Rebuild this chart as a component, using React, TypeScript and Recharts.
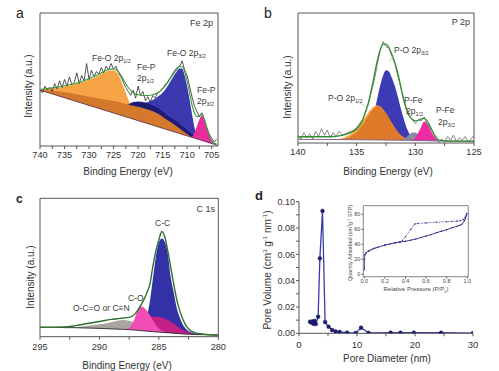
import React from 'react';
import { ComposedChart, Area, Line, XAxis, YAxis, ReferenceArea, LineChart } from 'recharts';

type P = [number, number];
const FONT = 'Liberation Sans, Arial, Helvetica, sans-serif';

// ---------- Panel a : Fe 2p ----------
const aTicks = [740, 737.5, 735, 732.5, 730, 727.5, 725, 722.5, 720, 717.5, 715, 712.5, 710, 707.5, 705];
const aBackground: P[] = [[740, 42], [703.7, 0.4]];
const aLightOrange: P[] = [[740, 42.2], [738, 43], [736, 44], [734, 45.5], [732, 47.5], [730, 50], [728, 53], [727, 55], [726, 56.5], [725, 57], [724.5, 56], [724, 53.5], [723.5, 49.5], [723, 45], [722.5, 40], [722, 35], [721.5, 31], [721, 30]];
const aBlue: P[] = [[721, 30.5], [720, 31], [719, 32], [718, 33], [717, 34.5], [716, 37], [715, 40], [714, 45], [713, 51], [712, 56.5], [711.5, 58.5], [711, 58], [710.5, 53], [710, 45], [709.5, 35], [709, 24], [708.5, 14], [708, 8], [707.5, 4], [707, 2.5]];
const aNavy: P[] = [[722, 31], [721, 33], [720, 33.5], [719, 33], [718, 32], [717, 30.5], [716, 28.5], [715, 26], [714, 23], [713, 20.5], [712, 18], [711, 15], [710, 12], [709, 9], [708, 6.5], [707, 4.5], [706, 3]];
const aDarkOrange: P[] = [[740, 42], [738, 41.8], [736, 41], [734, 40], [732, 38.5], [730, 37], [728, 35.8], [726, 34.5], [724, 33], [722, 31], [720, 29.5], [718, 27.5], [716, 24.5], [714, 19.5], [712, 14.5], [710, 9], [709, 6.5], [708, 4.5], [706, 2], [704, 0.6]];
const aMagenta: P[] = [[709.5, 5], [709, 6.5], [708.5, 10], [708, 15], [707.5, 20], [707, 23], [706.5, 19], [706, 13], [705.5, 8], [705, 4], [704.5, 1.5], [704, 0.6]];
const aEnvelope: P[] = [[740, 42.5], [738, 43.5], [736, 44.5], [734, 46], [732, 48], [730, 50.5], [728, 54], [726, 57.5], [725, 58], [724, 56], [723, 50], [722, 44], [721, 40], [720, 38.5], [719, 38], [718, 38], [717, 38.5], [716, 40], [715, 43], [714, 47.5], [713, 53], [712, 58], [711.5, 60], [711, 59.5], [710.5, 56], [710, 49], [709.5, 40], [709, 31], [708.5, 25], [708, 22], [707.5, 23], [707, 24], [706.5, 20], [706, 14], [705.5, 8], [705, 4], [704.5, 2], [704, 1.5]];
const aRaw: P[] = [[740, 43], [739.5, 40], [739, 45], [738.5, 42], [738, 44], [737.5, 41], [737, 47], [736.5, 43], [736, 49], [735.5, 44], [735, 50], [734.5, 45], [734, 52], [733.5, 46], [733, 48], [732.5, 55], [732, 47], [731.5, 53], [731, 49], [730.5, 62], [730, 50], [729.5, 57], [729, 52], [728.5, 56], [728, 54], [727.5, 59], [727, 55], [726.5, 60], [726, 57], [725.5, 62], [725, 58], [724.5, 60], [724, 55], [723.5, 52], [723, 48], [722.5, 44], [722, 41], [721.5, 38], [721, 42], [720.5, 36], [720, 45], [719.5, 38], [719, 41], [718.5, 34], [718, 37], [717.5, 33], [717, 38], [716.5, 36], [716, 40], [715.5, 41], [715, 43], [714.5, 46], [714, 48], [713.5, 51], [713, 54], [712.5, 57], [712, 59], [711.5, 60], [711, 64], [710.5, 57], [710, 53], [709.5, 45], [709, 37], [708.5, 30], [708, 26], [707.5, 22], [707, 25], [706.5, 20], [706, 14], [705.5, 9], [705, 6], [704.5, 3], [704, 5]];

// ---------- Panel b : P 2p ----------
const bTicks = [140, 137.5, 135, 132.5, 130, 127.5, 125];
const bBackground: P[] = [[140, 2.8], [136, 2.6], [133, 2.3], [130, 2], [128, 1.5], [125, 1.2]];
const bBlue: P[] = [[135, 2.8], [134.5, 4], [134, 9], [133.75, 15], [133.5, 24], [133.25, 34], [133, 44], [132.75, 52], [132.5, 56], [132.25, 55], [132, 50], [131.75, 44], [131.5, 36], [131.25, 27], [131, 19], [130.75, 12], [130.5, 7], [130.25, 4], [130, 2.8], [129.5, 2.2]];
const bLightOrange: P[] = [[137, 2.8], [136.5, 3.3], [136, 4.5], [135.5, 7], [135, 11], [134.5, 17], [134, 23.5], [133.5, 28], [133.25, 29], [133, 28], [132.5, 22.5], [132, 15], [131.5, 8.5], [131, 4.5], [130.5, 2.8], [130, 2.2]];
const bOrange: P[] = [[136.5, 2.8], [136, 3.5], [135.5, 5], [135, 8.5], [134.5, 14], [134, 21], [133.5, 27], [133.25, 28.5], [133, 28], [132.5, 23], [132, 15.5], [131.5, 8.5], [131, 4.5], [130.5, 2.8], [130, 2.2]];
const bGray: P[] = [[131, 2.5], [130.75, 4.5], [130.5, 6.5], [130.25, 8], [130, 8], [129.75, 6.5], [129.5, 4.5], [129, 2.5]];
const bMagenta: P[] = [[130.25, 2.2], [130, 4], [129.75, 8], [129.5, 12.5], [129.25, 16.5], [129, 15], [128.75, 11], [128.5, 6.5], [128.25, 3], [128, 1.5]];
const bEnvelope: P[] = [[140, 4.8], [138, 4.8], [137, 5], [136.5, 5.5], [136, 6.5], [135.5, 8], [135, 11], [134.5, 17.5], [134.25, 24], [134, 31], [133.75, 41], [133.5, 52], [133.25, 63], [133, 71.5], [132.75, 76], [132.5, 76], [132.25, 73.5], [132, 68], [131.75, 62], [131.5, 54], [131.25, 44], [131, 33.5], [130.75, 26], [130.5, 21], [130.25, 18], [130, 17], [129.75, 17.5], [129.5, 18.5], [129.25, 19], [129, 17], [128.75, 13], [128.5, 8.5], [128.25, 4.5], [128, 2.5], [127.5, 1.6], [127, 1.5], [125, 1.4]];
const bRaw: P[] = [[140, 6], [139.75, 3], [139.5, 8], [139.25, 4], [139, 7], [138.75, 3], [138.5, 9], [138.25, 5], [138, 11], [137.75, 6], [137.5, 10], [137.25, 4], [137, 8], [136.75, 5], [136.5, 9], [136.25, 6], [136, 7], [135.75, 8], [135.5, 9], [135.25, 10], [135, 12], [134.75, 15], [134.5, 18], [134.25, 23], [134, 30], [133.75, 39], [133.5, 48], [133.25, 60], [133, 71], [132.75, 78], [132.5, 74], [132.25, 73], [132, 67], [131.75, 61], [131.5, 52], [131.25, 43], [131, 34], [130.75, 25], [130.5, 20], [130.25, 18], [130, 15], [129.75, 18], [129.5, 17], [129.25, 20], [129, 15], [128.75, 12], [128.5, 8], [128.25, 3], [128, 0.5], [127.75, 3], [127.5, 1], [127.25, 5], [127, 2], [126.75, 6], [126.5, 1], [126.25, 4], [126, 2], [125.75, 5], [125.5, 1], [125.25, 3], [125, 6]];

// ---------- Panel c : C 1s ----------
const cTicks = [295, 292.5, 290, 287.5, 285, 282.5, 280];
const cBackground: P[] = [[295, 6.8], [292, 6.5], [290, 6], [288, 5.3], [287, 4.8], [286, 4], [285, 3.3], [284, 2.7], [283, 2], [282, 1.6], [280, 1.2]];
const cGray: P[] = [[292.5, 6.6], [292, 7], [291, 8], [290, 9], [289, 10.5], [288.5, 11.5], [288, 12], [287.5, 11.5], [287, 10], [286.5, 8], [286, 6], [285.5, 4.5], [285, 3.5]];
const cBlue: P[] = [[287, 4.8], [286.5, 5.5], [286.25, 8], [286, 15], [285.75, 26], [285.5, 42], [285.25, 58], [285, 68], [284.75, 71], [284.5, 68.5], [284.25, 60], [284, 43], [283.75, 32], [283.5, 21], [283.25, 14], [283, 9], [282.75, 6], [282.5, 4], [282, 2.5], [281.5, 1.8], [281, 1.4]];
const cDarkMagenta: P[] = [[287, 5], [286.5, 8], [286, 12], [285.5, 14.5], [285, 14.5], [284.5, 13], [284, 11], [283.5, 8], [283, 5], [282.5, 3], [282, 2]];
const cPink: P[] = [[288, 5.5], [287.5, 6.5], [287.25, 9], [287, 14], [286.75, 20], [286.5, 22], [286.25, 21], [286, 18.5], [285.75, 15.5], [285.5, 12], [285.25, 8.5], [285, 6], [284.5, 3.8]];
const cEnvelope: P[] = [[295, 6.8], [293, 7], [292, 8], [291, 9.5], [290, 11], [289, 12.5], [288.5, 13], [288, 13.5], [287.5, 14], [287, 16.5], [286.75, 19.5], [286.5, 23], [286.25, 27], [286, 32], [285.75, 38], [285.5, 51], [285.25, 62], [285, 70], [284.75, 76], [284.5, 72], [284.25, 62], [284, 50], [283.75, 38], [283.5, 27], [283.25, 19], [283, 13], [282.75, 8.5], [282.5, 5.5], [282, 3], [281.5, 2.2], [281, 1.6], [280, 1.2]];

// ---------- Panel d : pore size distribution ----------
const dXTicks = [0, 5, 10, 15, 20, 25, 30];
const dYTicks = [0, 0.01, 0.02, 0.03, 0.04, 0.05, 0.06, 0.07, 0.08, 0.09, 0.1];
const dPore: P[] = [[1.9, 0.0088], [2.1, 0.0082], [2.3, 0.009], [2.5, 0.0072], [2.7, 0.0094], [2.9, 0.0071], [3.3, 0.0126], [3.6, 0.057], [4.05, 0.093], [4.5, 0.0085], [5.1, 0.005], [5.7, 0.0025], [6.3, 0.0015], [7.0, 0.001], [8.3, 0.0005], [9.8, 0.0003], [10.7, 0.0042], [12.0, 0.0003], [15.8, 0.0005], [17.5, 0.0004], [19.8, 0.0004], [24.5, 0.0004], [30, 0.0002]];
// inset isotherm
const iXTicks = [0, 0.2, 0.4, 0.6, 0.8, 1.0];
const iYTicks = [0, 20, 40, 60, 80];
const iAdsorption: P[] = [[0.0005, 6], [0.002, 20], [0.006, 26], [0.015, 28.5], [0.04, 31], [0.08, 33.5], [0.13, 36], [0.2, 39], [0.25, 40.5], [0.3, 42], [0.35, 43], [0.4, 44], [0.45, 45.5], [0.5, 47], [0.55, 49], [0.6, 51], [0.65, 53], [0.7, 55.5], [0.75, 57.5], [0.8, 59.5], [0.85, 62], [0.9, 64], [0.93, 65.5], [0.95, 67], [0.97, 71], [0.98, 74], [0.99, 78], [0.995, 81]];
const iDesorption: P[] = [[0.995, 81], [0.98, 76], [0.96, 73], [0.93, 71.5], [0.9, 71], [0.85, 70.5], [0.8, 70], [0.7, 69.5], [0.6, 68.5], [0.52, 67.8], [0.49, 67], [0.45, 60], [0.4, 50], [0.37, 45], [0.34, 43], [0.3, 42], [0.2, 39], [0.1, 35], [0.05, 31.5], [0.02, 29], [0.005, 26]];

const toPts = (arr: P[]) => arr.map(([x, y]) => ({ x, y }));

type AreaSpec = { data: P[]; color: string };

function XpsPanel(props: {
  left: number; top: number; w: number; h: number;
  margin: { top: number; right: number; bottom: number; left: number };
  domain: [number, number]; ticks: number[]; tickMargin: number;
  areas: AreaSpec[]; bg: P[]; bgColor: string;
  raw?: P[]; rawColor?: string; rawWidth?: number;
  env: P[]; envColor: string; envWidth: number;
}) {
  const { left, top, w, h, margin, domain, ticks, tickMargin, areas, bg, bgColor, raw, rawColor, rawWidth, env, envColor, envWidth } = props;
  return (
    <div style={{ position: 'absolute', left, top }}>
      <ComposedChart width={w} height={h} margin={margin}>
        <XAxis
          type="number" dataKey="x" domain={domain} reversed allowDataOverflow
          ticks={ticks} interval={0} tickSize={3} axisLine={false}
          tickLine={{ stroke: '#555' }} height={20} tickMargin={tickMargin}
          tickFormatter={(v: number) => (v % 5 === 0 ? String(v) : '')}
          tick={{ fontSize: 9.2, fill: '#333', fontFamily: FONT }}
        />
        <YAxis type="number" domain={[0, 100]} hide allowDataOverflow />
        {areas.map((a, i) => (
          <Area key={i} data={toPts(a.data)} dataKey="y" type="monotone" stroke="none"
            fill={a.color} fillOpacity={1} isAnimationActive={false} dot={false} activeDot={false} />
        ))}
        <Area data={toPts(bg)} dataKey="y" type="monotone" stroke={bgColor} strokeWidth={0.9}
          fill="#ffffff" fillOpacity={1} isAnimationActive={false} dot={false} activeDot={false} />
        {raw && (
          <Line data={toPts(raw)} dataKey="y" type="linear" stroke={rawColor} strokeWidth={rawWidth}
            dot={false} activeDot={false} isAnimationActive={false} />
        )}
        <Line data={toPts(env)} dataKey="y" type="monotone" stroke={envColor} strokeWidth={envWidth}
          dot={false} activeDot={false} isAnimationActive={false} />
        <ReferenceArea x1={domain[0]} x2={domain[1]} y1={0} y2={100} fill="none" stroke="#555"
          strokeWidth={1} ifOverflow="visible" />
      </ComposedChart>
    </div>
  );
}

const TXT = '#3a3a3a';

function Sub({ children }: { children: React.ReactNode }) {
  return <tspan fontSize={5.5} dy={2}>{children}</tspan>;
}

function Overlay() {
  const ann = { fontSize: 8.5, fill: TXT, fontFamily: FONT } as const;
  const title = { fontSize: 10, fill: '#333', fontFamily: FONT } as const;
  return (
    <svg width={499} height={371} style={{ position: 'absolute', left: 0, top: 0, pointerEvents: 'none' }}>
      {/* panel letters */}
      <text x={16} y={18} fontSize={14} fill="#222" fontFamily={FONT}>a</text>
      <text x={264} y={18} fontSize={14} fill="#222" fontFamily={FONT}>b</text>
      <text x={16} y={203} fontSize={12} fontWeight="bold" fill="#222" fontFamily={FONT}>c</text>
      <text x={255} y={200} fontSize={13} fontWeight="bold" fill="#222" fontFamily={FONT}>d</text>

      {/* panel a */}
      <text x={213} y={26} textAnchor="end" {...ann} fontSize={9}>Fe 2p</text>
      <text x={92} y={61} {...ann}>Fe-O 2p<Sub>1/2</Sub></text>
      <text x={137} y={70} {...ann}>Fe-P</text>
      <text x={137} y={81} {...ann}>2p<Sub>1/2</Sub></text>
      <text x={167} y={56} {...ann}>Fe-O 2p<Sub>3/2</Sub></text>
      <text x={197} y={93} {...ann}>Fe-P</text>
      <text x={197} y={104} {...ann}>2p<Sub>3/2</Sub></text>
      <text x={31.5} y={86} textAnchor="middle" transform="rotate(-90 31.5 86)" {...title}>Intensity (a.u.)</text>
      <text x={128} y={175} textAnchor="middle" {...title}>Binding Energy (eV)</text>

      {/* panel b */}
      <text x={470} y={25} textAnchor="end" {...ann} fontSize={9}>P 2p</text>
      <text x={394} y={53} {...ann}>P-O 2p<Sub>3/2</Sub></text>
      <line x1={394} y1={55} x2={389} y2={62} stroke="#aaa" strokeWidth={0.6} />
      <text x={328} y={101} {...ann}>P-O 2p<Sub>1/2</Sub></text>
      <line x1={360} y1={103} x2={368} y2={108} stroke="#aaa" strokeWidth={0.6} />
      <text x={404} y={103} {...ann}>P-Fe</text>
      <text x={406} y={114} {...ann}>2p<Sub>1/2</Sub></text>
      <text x={436} y={113} {...ann}>P-Fe</text>
      <text x={438} y={125} {...ann}>2p<Sub>3/2</Sub></text>
      <text x={291} y={87} textAnchor="middle" transform="rotate(-90 291 87)" {...title}>Intensity (a.u.)</text>
      <text x={388} y={175} textAnchor="middle" {...title}>Binding Energy (eV)</text>

      {/* panel c */}
      <text x={215} y={212} textAnchor="end" {...ann} fontSize={9}>C 1s</text>
      <text x={155} y={226} {...ann}>C-C</text>
      <text x={128} y={301} {...ann}>C-O</text>
      <text x={73} y={311} {...ann}>O-C=O or C≡N</text>
      <text x={34} y={277} textAnchor="middle" transform="rotate(-90 34 277)" {...title}>Intensity (a.u.)</text>
      <text x={127} y={369} textAnchor="middle" {...title}>Binding Energy (eV)</text>

      {/* panel d */}
      <text x={271} y={270} textAnchor="middle" transform="rotate(-90 271 270)" {...title}>
        Pore Volume (cm<tspan fontSize={6} dy={-4}>3</tspan><tspan dy={4}> g</tspan><tspan fontSize={6} dy={-4}>-1</tspan><tspan dy={4}> nm</tspan><tspan fontSize={6} dy={-4}>-1</tspan><tspan dy={4}>)</tspan>
      </text>
      <text x={387} y={362} textAnchor="middle" {...title}>Pore Diameter (nm)</text>
      <text x={352} y={243} textAnchor="middle" transform="rotate(-90 352 243)" fontSize={5.3} fill="#444" fontFamily={FONT}>
        Quantity Adsorbed (cm<tspan fontSize={3.8} dy={-2}>3</tspan><tspan dy={2}>g</tspan><tspan fontSize={3.8} dy={-2}>-1</tspan><tspan dy={2}> STP)</tspan>
      </text>
      <text x={416} y={291} textAnchor="middle" fontSize={6} fill="#444" fontFamily={FONT}>
        Relative Pressure (P/P<tspan fontSize={4} dy={1.5}>0</tspan><tspan dy={-1.5}>)</tspan>
      </text>
    </svg>
  );
}

export default function App() {
  return (
    <div style={{ position: 'absolute', left: 0, top: 0, width: 499, height: 371, background: '#fff', overflow: 'hidden', fontFamily: FONT }}>
      <XpsPanel
        left={0} top={0} w={250} h={185}
        margin={{ top: 13, right: 32, bottom: 19, left: 40 }}
        domain={[703.7, 740]} ticks={aTicks} tickMargin={2}
        areas={[
          { data: aLightOrange, color: '#F6A446' },
          { data: aBlue, color: '#3C38B0' },
          { data: aNavy, color: '#1E1B74' },
          { data: aDarkOrange, color: '#D4782C' },
          { data: aMagenta, color: '#EA2C9E' },
        ]}
        bg={aBackground} bgColor="#6a3a4a"
        raw={aRaw} rawColor="#2a2a2a" rawWidth={0.8}
        env={aEnvelope} envColor="#3a9a3a" envWidth={1.1}
      />
      <XpsPanel
        left={250} top={0} w={249} h={185}
        margin={{ top: 13, right: 25, bottom: 22, left: 48 }}
        domain={[125, 140]} ticks={bTicks} tickMargin={2}
        areas={[
          { data: bBlue, color: '#3C3AB4' },
          { data: bLightOrange, color: '#F6A44C' },
          { data: bOrange, color: '#DE7A2A' },
          { data: bGray, color: '#8E8AA6' },
          { data: bMagenta, color: '#EC2CA0' },
        ]}
        bg={bBackground} bgColor="#7a5a8a"
        raw={bRaw} rawColor="#555" rawWidth={0.7}
        env={bEnvelope} envColor="#2f8f2f" envWidth={1.3}
      />
      <XpsPanel
        left={0} top={185} w={250} h={186}
        margin={{ top: 13.3, right: 31.7, bottom: 14.3, left: 40 }}
        domain={[280, 295]} ticks={cTicks} tickMargin={4}
        areas={[
          { data: cGray, color: '#A8A69E' },
          { data: cBlue, color: '#3232A6' },
          { data: cDarkMagenta, color: '#C41F86' },
          { data: cPink, color: '#F24DB6' },
        ]}
        bg={cBackground} bgColor="#2a2a2a"
        env={cEnvelope} envColor="#2f6f2f" envWidth={1.4}
      />
      <div style={{ position: 'absolute', left: 250, top: 185 }}>
        <LineChart width={249} height={186} margin={{ top: 16.7, right: 26, bottom: 17.7, left: 0 }}>
          <XAxis type="number" dataKey="x" domain={[0, 30]} ticks={dXTicks} interval={0} allowDataOverflow
            tickSize={3} tickMargin={5} height={20} axisLine={{ stroke: '#555' }} tickLine={{ stroke: '#555' }}
            tickFormatter={(v: number) => (v % 10 === 0 ? String(v) : '')}
            tick={{ fontSize: 9.5, fill: '#333', fontFamily: FONT }} />
          <YAxis type="number" domain={[0, 0.1]} ticks={dYTicks} interval={0} allowDataOverflow width={49}
            tickSize={3} tickMargin={1} axisLine={{ stroke: '#555' }} tickLine={{ stroke: '#555' }}
            tickFormatter={(v: number, i: number) => (i % 2 === 0 ? v.toFixed(2) : '')}
            tick={{ fontSize: 9, fill: '#333', fontFamily: FONT }} />
          <Line data={toPts(dPore)} dataKey="y" type="linear" stroke="#3a3aa6" strokeWidth={1.3}
            dot={{ r: 1.9, fill: '#1c1c6c', stroke: '#1c1c6c', strokeWidth: 0.5 }} activeDot={false}
            isAnimationActive={false} />
        </LineChart>
      </div>
      <div style={{ position: 'absolute', left: 340, top: 200 }}>
        <ComposedChart width={135} height={100} margin={{ top: 5.7, right: 6.7, bottom: 11.3, left: 0 }}>
          <XAxis type="number" dataKey="x" domain={[-0.01, 1.01]} ticks={iXTicks} interval={0} allowDataOverflow
            tickSize={2} tickMargin={0} height={12} axisLine={false} tickLine={{ stroke: '#666' }}
            tickFormatter={(v: number) => v.toFixed(1)}
            tick={{ fontSize: 5.5, fill: '#444', fontFamily: FONT }} />
          <YAxis type="number" domain={[-3.2, 91.5]} ticks={iYTicks} interval={0} allowDataOverflow width={23.3}
            tickSize={2} tickMargin={1} axisLine={false} tickLine={{ stroke: '#666' }}
            tick={{ fontSize: 5.5, fill: '#444', fontFamily: FONT }} />
          <Line data={toPts(iAdsorption)} dataKey="y" type="monotone" stroke="#3c3c9c" strokeWidth={1}
            dot={{ r: 0.7, fill: '#2a2a80', stroke: 'none' }} activeDot={false} isAnimationActive={false} />
          <Line data={toPts(iDesorption)} dataKey="y" type="linear" stroke="#5555aa" strokeWidth={0.8}
            strokeDasharray="2 1" dot={{ r: 0.7, fill: '#2a2a80', stroke: 'none' }} activeDot={false}
            isAnimationActive={false} />
          <ReferenceArea x1={-0.01} x2={1.01} y1={-3.2} y2={91.5} fill="none" stroke="#666" strokeWidth={0.8}
            ifOverflow="visible" />
        </ComposedChart>
      </div>
      <Overlay />
    </div>
  );
}
